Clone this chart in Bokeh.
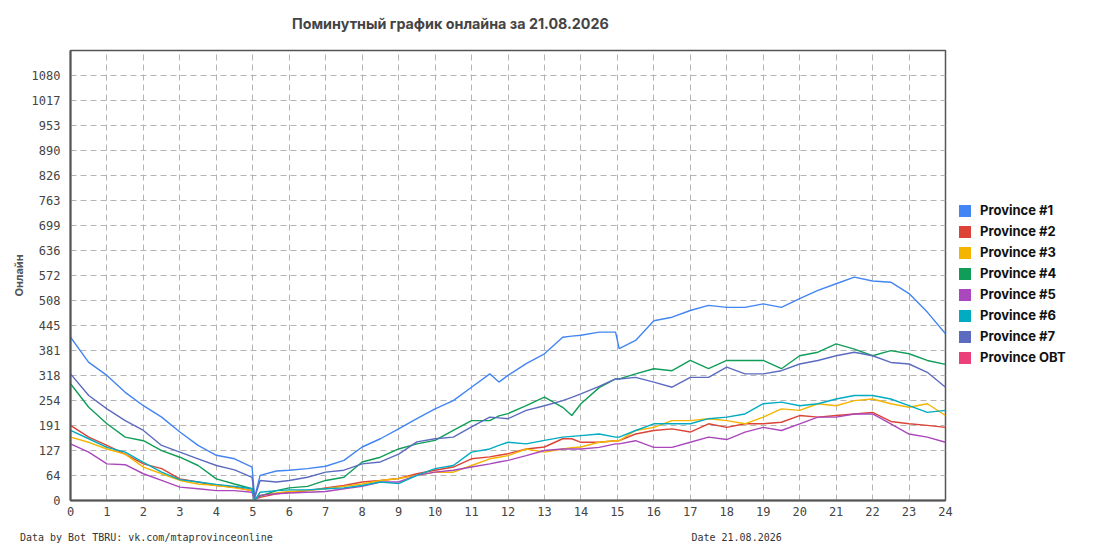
from bokeh.plotting import figure
from bokeh.models import Range1d, FixedTicker, Legend, LegendItem, LinearAxis
from bokeh.embed import file_html
from bokeh.resources import INLINE

hours = [0, 0.5, 1, 1.5, 2, 2.5, 3, 3.5, 4, 4.5, 4.98, 5.05, 5.2, 5.65, 6, 6.5, 7, 7.5,
         8, 8.5, 9, 9.5, 10, 10.5, 11, 11.5, 11.75, 12, 12.5, 13, 13.5, 13.75, 14, 14.5,
         14.95, 15.05, 15.5, 16, 16.5, 17, 17.5, 18, 18.5, 19, 19.5, 20, 20.5, 21, 21.5,
         22, 22.5, 23, 23.5, 24]

p1 = [415, 351, 318, 275, 241, 212, 174, 140, 115, 106, 85, 8, 64, 75, 77, 81, 87, 102,
      136, 157, 182, 208, 233, 254, 288, 322, 301, 318, 348, 373, 415, 418, 420, 428,
      428, 386, 407, 457, 466, 483, 496, 491, 491, 500, 491, 513, 534, 551, 568,
      558, 555, 526, 479, 424]
p2 = [191, 161, 140, 118, 93, 81, 55, 47, 38, 34, 25, 3, 8, 17, 21, 25, 32, 38,
      47, 51, 56, 68, 77, 85, 106, 111, 115, 119, 131, 136, 157, 157, 148, 148,
      152, 152, 169, 178, 182, 174, 195, 186, 195, 195, 199, 216, 212, 216, 220,
      224, 201, 195, 191, 186]
p3 = [161, 148, 131, 118, 85, 68, 51, 42, 38, 32, 25, 3, 13, 19, 23, 25, 30, 36,
      42, 51, 56, 64, 72, 72, 89, 106, 110, 114, 131, 123, 131, 134, 136, 148,
      152, 152, 178, 186, 203, 203, 208, 203, 195, 212, 233, 229, 246, 241, 254,
      258, 246, 237, 246, 216]
p4 = [297, 237, 195, 161, 152, 127, 110, 89, 55, 42, 30, 4, 11, 25, 32, 36, 51, 59,
      98, 110, 131, 144, 153, 178, 203, 203, 215, 221, 241, 263, 237, 216, 246, 287,
      309, 309, 322, 335, 330, 356, 335, 356, 356, 356, 335, 368, 377, 398, 385,
      368, 381, 373, 356, 346]
p5 = [144, 123, 93, 91, 68, 51, 34, 30, 25, 25, 21, 2, 13, 17, 19, 21, 23, 30,
      36, 47, 47, 64, 72, 77, 85, 93, 98, 102, 114, 127, 131, 131, 131, 135,
      144, 144, 152, 135, 135, 148, 161, 155, 174, 186, 178, 195, 212, 212, 220,
      220, 195, 169, 161, 148]
p6 = [178, 157, 135, 123, 97, 72, 53, 47, 41, 36, 30, 0, 21, 25, 27, 27, 30, 32,
      38, 47, 43, 64, 81, 89, 123, 131, 140, 148, 144, 153, 161, 163, 165, 169,
      161, 161, 178, 195, 195, 195, 208, 212, 220, 246, 250, 241, 246, 258, 267,
      267, 258, 241, 224, 229]
p7 = [322, 267, 233, 203, 178, 140, 123, 106, 89, 78, 59, 6, 51, 47, 51, 59, 72, 77,
      93, 98, 118, 149, 157, 161, 187, 212, 210, 208, 229, 241, 254, 262, 271, 290,
      309, 309, 313, 301, 288, 313, 313, 339, 322, 322, 330, 347, 356, 368, 377,
      368, 351, 347, 326, 288]
p_obt = []

series_names = ["Province #1", "Province #2", "Province #3", "Province #4",
                "Province #5", "Province #6", "Province #7", "Province OBT"]
series_values = [p1, p2, p3, p4, p5, p6, p7, p_obt]
colors = ["#4285F4", "#DB4437", "#F4B400", "#0F9D58", "#AB47BC", "#00ACC1", "#5C6BC0", "#EC407A"]

x_ticks = list(range(0, 25))
y_ticks = [0, 64, 127, 191, 254, 318, 381, 445, 508, 572, 636, 699, 763, 826, 890, 953, 1017, 1080]
y_max = 1144

title_text = "Поминутный график онлайна за 21.08.2026"
title_at_hour = 10.42
y_label = "Онлайн"
footer_texts = ["Data by Bot TBRU: vk.com/mtaprovinceonline", "Date 21.08.2026"]
footer_at_hour = [2.08, 18.27]

p = figure(frame_width=875, frame_height=450, output_backend="svg", toolbar_location=None,
           x_range=Range1d(0, 24), y_range=Range1d(0, y_max),
           min_border_left=70, min_border_right=135, min_border_top=50, min_border_bottom=45)
p.background_fill_color = "white"
p.border_fill_color = "white"
p.outline_line_color = "#555555"
p.outline_line_width = 1.5

mono = "DejaVu Sans Mono"


def strip_axis(ax):
    ax.major_tick_out = 0
    ax.major_tick_in = 0
    ax.minor_tick_out = 0
    ax.minor_tick_in = 0


for ax in (p.xaxis[0], p.yaxis[0]):
    strip_axis(ax)
    ax.axis_line_color = "#555555"
    ax.axis_line_width = 2
    ax.major_label_text_font = mono
    ax.major_label_text_font_size = "12px"
    ax.major_label_text_color = "#444444"
p.xaxis.major_label_standoff = 6
p.yaxis.major_label_standoff = 10

p.xaxis.ticker = FixedTicker(ticks=x_ticks)
p.yaxis.ticker = FixedTicker(ticks=y_ticks)
p.yaxis.axis_label = y_label
p.yaxis.axis_label_text_font = "Inter"
p.yaxis.axis_label_text_font_style = "bold"
p.yaxis.axis_label_text_font_size = "11px"
p.yaxis.axis_label_text_color = "#555555"
p.yaxis.axis_label_standoff = 3

# chart title as the single label of a line-less axis above the frame
head = LinearAxis(ticker=FixedTicker(ticks=[title_at_hour]),
                  major_label_overrides={title_at_hour: title_text})
strip_axis(head)
head.axis_line_color = None
head.major_label_text_font = "Inter"
head.major_label_text_font_style = "bold"
head.major_label_text_font_size = "14.3px"
head.major_label_text_color = "#444444"
head.major_label_standoff = 19
p.add_layout(head, "above")

# footer texts as labels of a line-less axis below the x axis
foot = LinearAxis(ticker=FixedTicker(ticks=footer_at_hour),
                  major_label_overrides={h: t for h, t in zip(footer_at_hour, footer_texts)})
strip_axis(foot)
foot.axis_line_color = None
foot.major_label_text_font = mono
foot.major_label_text_font_size = "10px"
foot.major_label_text_color = "#333333"
foot.major_label_standoff = 13
p.add_layout(foot, "below")

for g in (p.xgrid[0], p.ygrid[0]):
    g.grid_line_color = "#b4b4b4"
    g.grid_line_dash = "6 4"
    g.grid_line_width = 1

nan = float("nan")
items = []
for name, vals, c in zip(series_names, series_values, colors):
    xs = hours[:len(vals)]
    p.line(xs, vals, line_color=c, line_width=1.4)
    # legend swatch only (no visible mark)
    r = p.quad(left=[nan], right=[nan], top=[nan], bottom=[nan], fill_color=c, line_color=None)
    items.append(LegendItem(label=name, renderers=[r]))

legend = Legend(items=items, location=(12, 135))
legend.label_text_font = "Inter"
legend.label_text_font_style = "bold"
legend.label_text_font_size = "13px"
legend.label_text_color = "#111111"
legend.border_line_color = None
legend.background_fill_alpha = 0
legend.glyph_width = 15
legend.glyph_height = 15
legend.label_height = 15
legend.spacing = 5
legend.label_standoff = 8
legend.padding = 6
legend.margin = 0
p.add_layout(legend, "right")

open("out.html", "w").write(file_html(p, INLINE))
